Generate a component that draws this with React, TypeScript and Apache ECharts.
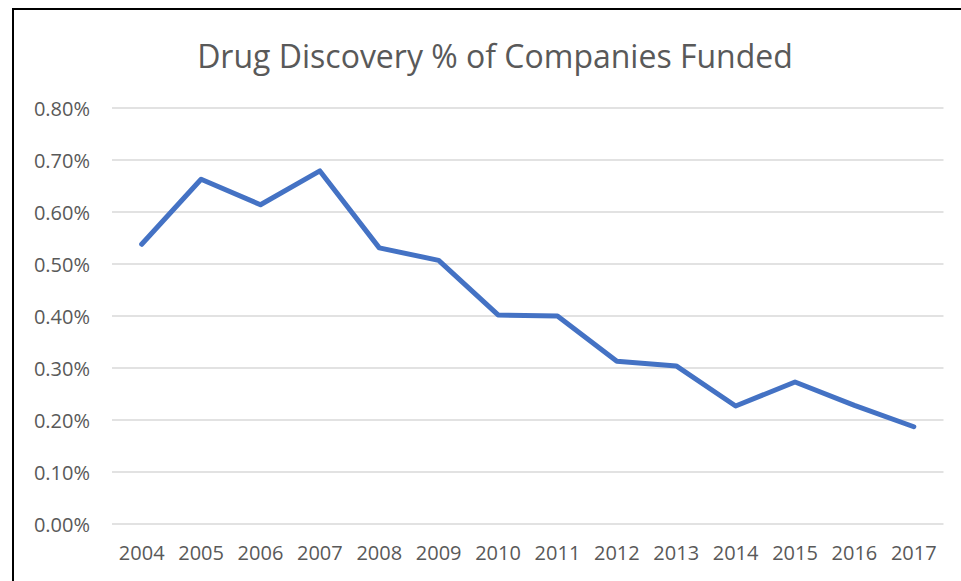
import React, { useEffect, useRef } from "react";
import * as echarts from "echarts";

const years = ["2004", "2005", "2006", "2007", "2008", "2009", "2010", "2011", "2012", "2013", "2014", "2015", "2016", "2017"];
const pctFunded = [0.538, 0.663, 0.614, 0.679, 0.531, 0.507, 0.402, 0.4, 0.313, 0.304, 0.227, 0.273, 0.228, 0.187];
const chartTitle = "Drug Discovery % of Companies Funded";

const FONT = "'Open Sans', sans-serif";
const TEXT = "#595959";

export default function App() {
  const ref = useRef<HTMLDivElement>(null);
  useEffect(() => {
    document.body.style.margin = "0";
    const chart = echarts.init(ref.current!, null, { renderer: "svg" });
    chart.setOption({
      animation: false,
      backgroundColor: "#ffffff",
      graphic: [
        {
          type: "polyline",
          shape: { points: [[13, 581], [13, 9], [961, 9]] },
          style: { stroke: "#000000", lineWidth: 2, fill: null },
        },
        {
          type: "text",
          x: 495,
          y: 55,
          style: {
            text: chartTitle,
            fill: TEXT,
            font: `32px ${FONT}`,
            textAlign: "center",
            textVerticalAlign: "middle",
          },
        },
      ],
      grid: { left: 112, right: 17.5, top: 108, bottom: 57, containLabel: false },
      xAxis: {
        type: "category",
        data: years,
        boundaryGap: true,
        axisLine: { show: false },
        axisTick: { show: false },
        axisLabel: { color: TEXT, fontSize: 20, fontFamily: FONT, margin: 18, interval: 0 },
        splitLine: { show: false },
      },
      yAxis: {
        type: "value",
        min: 0,
        max: 0.8,
        interval: 0.1,
        axisLine: { show: false },
        axisTick: { show: false },
        axisLabel: {
          color: TEXT,
          fontSize: 20,
          fontFamily: FONT,
          margin: 22,
          formatter: (v: number) => v.toFixed(2) + "%",
        },
        splitLine: { lineStyle: { color: "#D9D9D9", width: 1.5 } },
      },
      series: [
        {
          type: "line",
          data: pctFunded,
          symbol: "none",
          lineStyle: { color: "#4472C4", width: 5, cap: "round", join: "round" },
        },
      ],
    });
    return () => chart.dispose();
  }, []);
  return <div ref={ref} style={{ width: 961, height: 581 }} />;
}
